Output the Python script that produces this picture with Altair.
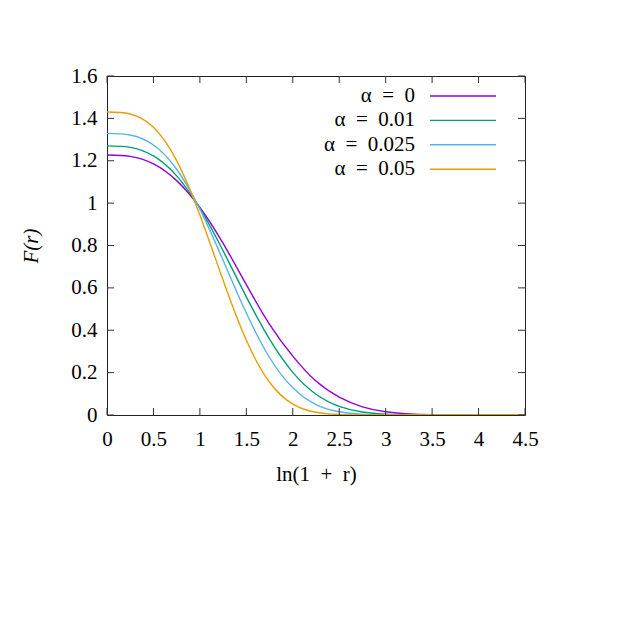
import altair as alt
import pandas as pd

# ---- data ----
x_vals = [0.0, 0.25, 0.5, 0.75, 1.0, 1.25, 1.5, 1.75, 2.0, 2.25, 2.5, 2.75,
          3.0, 3.25, 3.5, 3.75, 4.0, 4.25, 4.5]
f_a0 = [1.227, 1.2205, 1.1852, 1.1062, 0.9794, 0.810, 0.615, 0.428, 0.278,
        0.160, 0.0845, 0.0386, 0.0154, 0.0054, 0.0016, 0.0004, 0.0001, 0.0, 0.0]
f_a001 = [1.27, 1.2631, 1.2226, 1.1285, 0.9749, 0.7750, 0.5575, 0.3576, 0.2013,
          0.0980, 0.0407, 0.0142, 0.0041, 0.0010, 0.0002, 0.0, 0.0, 0.0, 0.0]
f_a0025 = [1.329, 1.3215, 1.2744, 1.1600, 0.9714, 0.7303, 0.4811, 0.2714, 0.1281,
           0.0494, 0.0152, 0.0037, 0.0007, 0.0001, 0.0, 0.0, 0.0, 0.0, 0.0]
f_a005 = [1.43, 1.4208, 1.3577, 1.2004, 0.9443, 0.6358, 0.3525, 0.1547, 0.0517,
          0.0127, 0.0022, 0.0003, 0.0, 0.0, 0.0, 0.0, 0.0, 0.0, 0.0]

SP = "\u2002"
labels = [f"α{SP}={SP}0", f"α{SP}={SP}0.01", f"α{SP}={SP}0.025", f"α{SP}={SP}0.05"]
colors = ["#9400d3", "#009e73", "#56b4e9", "#e69f00"]
x_ticks = [0, 0.5, 1, 1.5, 2, 2.5, 3, 3.5, 4, 4.5]
y_ticks = [0, 0.2, 0.4, 0.6, 0.8, 1.0, 1.2, 1.4, 1.6]
x_title = f"ln(1{SP}+{SP}r)"
y_title = "F(r)"

series = [f_a0, f_a001, f_a0025, f_a005]
rows = []
for lab, vals in zip(labels, series):
    for xv, fv in zip(x_vals, vals):
        rows.append({"x": xv, "F": fv, "series": lab})
df = pd.DataFrame(rows)

W, H = 418, 339
FONT = "Liberation Serif"
FS = 21
TICK = 7
TICK_COLOR = "#333333"

x_scale = alt.Scale(domain=[0, 4.5], nice=False, zero=False)
y_scale = alt.Scale(domain=[0, 1.6], nice=False, zero=False)
x_axis = alt.Axis(values=x_ticks, format="~g", title=x_title, ticks=False, tickSize=0,
                  domain=False, grid=False, labelPadding=13, titlePadding=14,
                  labelFlush=False, labelOverlap=False, labelBound=False)
y_axis = alt.Axis(values=y_ticks, format="~g", title=y_title, ticks=False, tickSize=0,
                  domain=False, grid=False, labelPadding=10, titlePadding=29,
                  labelFlush=False, labelOverlap=False, labelBound=False,
                  titleFontStyle="italic")

lines = alt.Chart(df).mark_line(strokeWidth=1.4, interpolate="natural", clip=True).encode(
    x=alt.X("x:Q", scale=x_scale, axis=x_axis),
    y=alt.Y("F:Q", scale=y_scale, axis=y_axis),
    color=alt.Color("series:N", scale=alt.Scale(domain=labels, range=colors), legend=None),
)

xt = pd.DataFrame({"x": x_ticks})
yt = pd.DataFrame({"F": y_ticks})
tick_layers = [
    alt.Chart(xt).mark_rule(color=TICK_COLOR, strokeWidth=1).encode(
        x=alt.X("x:Q", scale=x_scale, axis=x_axis), y=alt.value(H), y2=alt.value(H - TICK)),
    alt.Chart(xt).mark_rule(color=TICK_COLOR, strokeWidth=1).encode(
        x=alt.X("x:Q", scale=x_scale, axis=x_axis), y=alt.value(0), y2=alt.value(TICK)),
    alt.Chart(yt).mark_rule(color=TICK_COLOR, strokeWidth=1).encode(
        y=alt.Y("F:Q", scale=y_scale, axis=y_axis), x=alt.value(0), x2=alt.value(TICK)),
    alt.Chart(yt).mark_rule(color=TICK_COLOR, strokeWidth=1).encode(
        y=alt.Y("F:Q", scale=y_scale, axis=y_axis), x=alt.value(W), x2=alt.value(W - TICK)),
]

legend_layers = []
for i, (lab, col) in enumerate(zip(labels, colors)):
    ypix = 20 + i * 24.4
    ld = pd.DataFrame({"label": [lab]})
    legend_layers.append(
        alt.Chart(ld).mark_text(align="right", baseline="middle", font=FONT, fontSize=FS,
                                color="black").encode(
            text="label:N", x=alt.value(308), y=alt.value(ypix)))
    legend_layers.append(
        alt.Chart(ld).mark_rule(color=col, strokeWidth=1.4).encode(
            x=alt.value(323), x2=alt.value(389), y=alt.value(ypix)))

chart = alt.layer(lines, *tick_layers, *legend_layers).properties(
    width=W, height=H, autosize="none",
    padding={"left": 99, "top": 68, "right": 97, "bottom": 207},
).configure_view(stroke="#222222", strokeWidth=1).configure_axis(
    labelFont=FONT, labelFontSize=FS, labelColor="black",
    titleFont=FONT, titleFontSize=FS, titleColor="black", titleFontWeight="normal",
)

chart.save("out.html", embed_options={"renderer": "svg", "actions": False})
